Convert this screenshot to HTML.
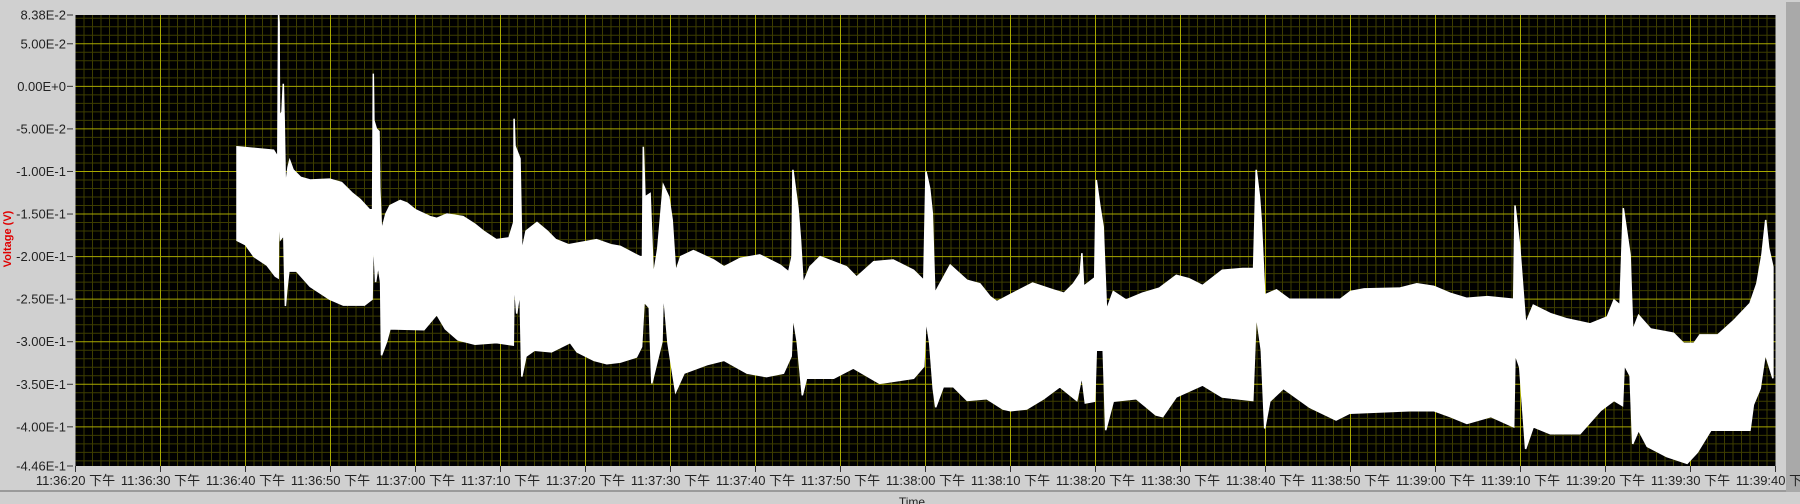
<!DOCTYPE html>
<html><head><meta charset="utf-8"><style>
html,body{margin:0;padding:0;background:#d0d0d0;width:1800px;height:504px;overflow:hidden}
svg{display:block}
text{font-family:"Liberation Sans","Noto Sans CJK SC",sans-serif}
</style></head><body>
<svg id="chart" width="1800" height="504" xmlns="http://www.w3.org/2000/svg">
<rect x="0" y="0" width="1800" height="504" fill="#d0d0d0"/>
<rect x="1786" y="2" width="14" height="490" fill="#a9a9a9"/>
<rect x="0" y="490" width="1786" height="2" fill="#9a9a9a"/>
<rect x="75.5" y="15" width="1700" height="451" fill="#000"/>
<g id="grid"></g>
<g id="series"></g>
<g id="yaxis"></g>
<g id="xaxis"></g>
<text x="0" y="0" transform="translate(11,239) rotate(-90)" text-anchor="middle" font-size="11" font-weight="bold" fill="#e00000">Voltage (V)</text>
<text x="912" y="506" text-anchor="middle" font-size="12" fill="#222">Time</text>
</svg>
<script>
const xTickLabels=["11:36:20 下午","11:36:30 下午","11:36:40 下午","11:36:50 下午","11:37:00 下午","11:37:10 下午","11:37:20 下午","11:37:30 下午","11:37:40 下午","11:37:50 下午","11:38:00 下午","11:38:10 下午","11:38:20 下午","11:38:30 下午","11:38:40 下午","11:38:50 下午","11:39:00 下午","11:39:10 下午","11:39:20 下午","11:39:30 下午","11:39:40 下午"];
const yTickValues=[0.0838,0.05,0,-0.05,-0.1,-0.15,-0.2,-0.25,-0.3,-0.35,-0.4,-0.446];
const yTickLabels=["8.38E-2","5.00E-2","0.00E+0","-5.00E-2","-1.00E-1","-1.50E-1","-2.00E-1","-2.50E-1","-3.00E-1","-3.50E-1","-4.00E-1","-4.46E-1"];
const upperT=[19.0,23.3,23.8,23.9,23.95,24.0,24.3,24.45,24.55,24.7,25.0,25.2,25.6,26.5,27.6,29.9,31.3,32.5,33.5,34.6,34.95,35.04,35.1,35.4,35.7,35.8,36.0,36.5,37.0,38.2,39.0,40.0,41.7,42.5,43.7,45.6,47.0,48.0,49.5,51.0,51.55,51.6,51.7,52.3,52.5,53.0,54.3,55.5,56.5,58.0,61.3,63.0,64.1,66.4,66.7,66.8,67.0,67.6,67.98,68.5,69.15,69.8,70.2,70.6,71.2,72.7,75.1,76.3,78.2,80.5,82.9,83.9,84.3,84.4,85.0,85.3,85.6,86.4,87.6,90.7,91.9,93.9,96.2,98.6,99.8,100.06,100.5,100.8,101.1,102.9,104.9,106.4,107.6,108.4,109.9,112.6,115.0,116.3,117.4,118.2,118.4,118.6,119.9,120.1,120.5,120.9,121.3,122.1,123.6,125.5,127.5,129.5,131.0,132.6,134.9,137.3,138.6,138.9,139.3,139.5,139.9,141.3,142.8,148.8,150.0,151.6,155.8,157.8,159.8,161.7,163.7,166.1,169.2,169.35,169.9,170.6,171.5,173.5,175.4,178.2,180.2,181.0,181.7,182.1,182.9,183.2,183.9,185.3,188.0,189.2,190.4,191.1,193.2,195.1,197.0,197.8,198.4,198.85,199.2,199.7];
const upperV=[-0.071,-0.075,-0.083,0.0838,0.075,-0.035,-0.03,0.003,-0.04,-0.12,-0.095,-0.087,-0.098,-0.107,-0.110,-0.109,-0.113,-0.125,-0.133,-0.145,-0.145,0.015,-0.04,-0.05,-0.053,-0.12,-0.17,-0.15,-0.14,-0.134,-0.137,-0.145,-0.153,-0.155,-0.150,-0.153,-0.162,-0.170,-0.180,-0.178,-0.16,-0.038,-0.07,-0.085,-0.195,-0.170,-0.160,-0.170,-0.180,-0.186,-0.180,-0.186,-0.188,-0.200,-0.200,-0.071,-0.13,-0.126,-0.224,-0.19,-0.116,-0.13,-0.157,-0.218,-0.200,-0.193,-0.204,-0.212,-0.202,-0.198,-0.210,-0.218,-0.20,-0.098,-0.143,-0.18,-0.232,-0.212,-0.200,-0.212,-0.224,-0.206,-0.204,-0.216,-0.228,-0.100,-0.12,-0.149,-0.243,-0.210,-0.228,-0.232,-0.247,-0.253,-0.245,-0.231,-0.239,-0.243,-0.232,-0.22,-0.196,-0.235,-0.225,-0.110,-0.14,-0.165,-0.263,-0.241,-0.251,-0.243,-0.237,-0.222,-0.226,-0.234,-0.216,-0.214,-0.214,-0.098,-0.13,-0.159,-0.245,-0.239,-0.250,-0.250,-0.241,-0.238,-0.237,-0.232,-0.235,-0.243,-0.249,-0.247,-0.250,-0.140,-0.188,-0.279,-0.257,-0.267,-0.273,-0.279,-0.271,-0.251,-0.257,-0.143,-0.198,-0.287,-0.269,-0.285,-0.290,-0.302,-0.302,-0.292,-0.292,-0.275,-0.255,-0.232,-0.198,-0.157,-0.19,-0.212];
const lowerT=[19.0,20.0,21.0,22.5,23.5,23.85,23.9,24.1,24.5,24.6,24.7,24.85,25.1,26.0,27.6,29.9,31.5,34.0,34.9,35.04,35.3,35.6,35.9,36.0,36.6,37.0,41.0,42.5,43.5,45.0,47.0,49.5,51.5,51.6,51.9,52.3,52.5,53.0,54.0,56.0,58.2,59.0,61.0,62.5,64.1,66.0,66.6,66.9,67.5,67.8,68.5,69.0,69.15,69.7,70.6,71.6,74.3,76.3,79.0,81.3,83.3,84.2,84.4,84.9,85.5,86.0,89.2,91.5,94.6,98.6,99.8,100.06,100.5,100.9,101.2,102.1,103.3,104.9,107.2,109.1,110.0,111.9,113.9,115.8,117.8,118.4,118.8,119.9,120.1,120.9,121.2,122.1,124.8,127.1,127.9,129.5,132.6,134.9,138.5,138.9,139.5,139.9,140.5,142.1,145.2,148.3,149.9,157.0,159.8,161.7,163.7,166.5,169.2,169.35,169.9,170.6,171.5,173.5,177.0,179.4,181.0,182.0,182.2,182.9,183.2,183.9,184.9,187.2,189.6,190.8,192.4,197.0,197.4,198.2,198.8,199.7];
const lowerV=[-0.181,-0.186,-0.200,-0.210,-0.223,-0.225,-0.14,-0.18,-0.175,-0.22,-0.258,-0.24,-0.217,-0.217,-0.235,-0.250,-0.257,-0.257,-0.25,-0.17,-0.23,-0.21,-0.23,-0.316,-0.300,-0.285,-0.286,-0.268,-0.285,-0.298,-0.303,-0.301,-0.304,-0.223,-0.267,-0.24,-0.341,-0.317,-0.310,-0.312,-0.301,-0.312,-0.322,-0.326,-0.324,-0.318,-0.306,-0.253,-0.26,-0.349,-0.32,-0.30,-0.239,-0.302,-0.359,-0.337,-0.327,-0.322,-0.337,-0.341,-0.337,-0.317,-0.269,-0.30,-0.363,-0.343,-0.343,-0.331,-0.349,-0.343,-0.329,-0.273,-0.302,-0.355,-0.377,-0.353,-0.353,-0.369,-0.367,-0.379,-0.381,-0.379,-0.367,-0.353,-0.369,-0.34,-0.372,-0.370,-0.310,-0.310,-0.404,-0.370,-0.367,-0.386,-0.388,-0.365,-0.351,-0.365,-0.369,-0.267,-0.31,-0.402,-0.370,-0.355,-0.377,-0.392,-0.384,-0.381,-0.381,-0.388,-0.396,-0.388,-0.400,-0.314,-0.33,-0.426,-0.400,-0.408,-0.408,-0.381,-0.369,-0.375,-0.327,-0.34,-0.420,-0.404,-0.423,-0.435,-0.443,-0.43,-0.404,-0.404,-0.374,-0.355,-0.314,-0.343];

const NS="http://www.w3.org/2000/svg";
const X0=75.5,X1=1775.5,Y0=15,Y1=466,VMAX=0.0838,VMIN=-0.446,TMAX=200;
function xs(t){return X0+t/TMAX*(X1-X0);}
function ys(v){return Y0+(VMAX-v)/(VMAX-VMIN)*(Y1-Y0);}
function mk(tag,attrs,parent){const e=document.createElementNS(NS,tag);for(const k in attrs)e.setAttribute(k,attrs[k]);parent.appendChild(e);return e;}

const grid=document.getElementById('grid');
for(let i=1;i<TMAX;i++){
  if(i%10===0)continue;
  const l=mk('line',{x1:xs(i),x2:xs(i),y1:Y0,y2:Y1,stroke:'#3d3d00','stroke-width':1},grid);
  
  
}
for(let k=-44;k<=8;k++){
  if(k%5===0)continue;
  const v=k/100;
  const l=mk('line',{x1:X0,x2:X1,y1:ys(v),y2:ys(v),stroke:'#3d3d00','stroke-width':1},grid);
  
  
}
for(let i=10;i<TMAX;i+=10){
  const l=mk('line',{x1:xs(i),x2:xs(i),y1:Y0,y2:Y1,stroke:'#a8a800','stroke-width':1},grid);
  
  
}
for(let k=-40;k<=5;k+=5){
  const v=k/100;
  const l=mk('line',{x1:X0,x2:X1,y1:ys(v),y2:ys(v),stroke:'#a8a800','stroke-width':1},grid);
  
  
}

const series=document.getElementById('series');
let pts=[];
for(let i=0;i<upperT.length;i++)pts.push(xs(upperT[i]).toFixed(1)+','+ys(upperV[i]).toFixed(1));
for(let i=lowerT.length-1;i>=0;i--)pts.push(xs(lowerT[i]).toFixed(1)+','+ys(lowerV[i]).toFixed(1));
const band=mk('polygon',{points:pts.join(' '),fill:'#fff',stroke:'#fff','stroke-width':1.5,'stroke-linejoin':'miter'},series);



const yax=document.getElementById('yaxis');
for(let i=0;i<yTickValues.length;i++){
  const y=ys(yTickValues[i]);
  const t=mk('line',{x1:67,x2:73,y1:y,y2:y,stroke:'#333','stroke-width':1},yax);
  
  
  const tx=mk('text',{x:66,y:y+4.5,'text-anchor':'end','font-size':13,fill:'#222'},yax);
  tx.textContent=yTickLabels[i];
  
  
}
const xax=document.getElementById('xaxis');
for(let i=0;i<xTickLabels.length;i++){
  const x=xs(i*10);
  const t=mk('line',{x1:x,x2:x,y1:466,y2:472,stroke:'#333','stroke-width':1},xax);
  
  
  const tx=mk('text',{x:x,y:485,'text-anchor':'middle','font-size':13,fill:'#222'},xax);
  tx.textContent=xTickLabels[i];
  
  
}
</script>
</body></html>
